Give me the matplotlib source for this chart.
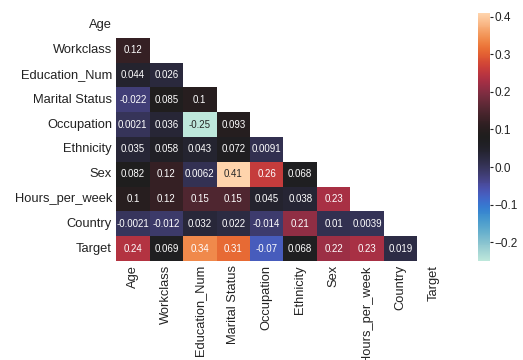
import numpy as np
import pandas as pd
import matplotlib
matplotlib.use("Agg")
import matplotlib.pyplot as plt
import seaborn as sns

features = ["Age", "Workclass", "Education_Num", "Marital Status", "Occupation",
            "Ethnicity", "Sex", "Hours_per_week", "Country", "Target"]

# lower-triangle correlations, one row per feature (columns left of the diagonal)
corr_rows = [
    [],
    [0.12],
    [0.044, 0.026],
    [-0.022, 0.085, 0.1],
    [0.0021, 0.036, -0.25, 0.093],
    [0.035, 0.058, 0.043, 0.072, 0.0091],
    [0.082, 0.12, 0.0062, 0.41, 0.26, 0.068],
    [0.1, 0.12, 0.15, 0.15, 0.045, 0.038, 0.23],
    [-0.0021, -0.012, 0.032, 0.022, -0.014, 0.21, 0.01, 0.0039],
    [0.24, 0.069, 0.34, 0.31, -0.07, 0.068, 0.22, 0.23, 0.019],
]

# build the full symmetric matrix
n = len(features)
mat = np.eye(n)
for i, row in enumerate(corr_rows):
    for j, v in enumerate(row):
        mat[i, j] = v
        mat[j, i] = v
corr = pd.DataFrame(mat, index=features, columns=features)

plt.rcParams["font.family"] = ["Liberation Sans", "DejaVu Sans"]

fig = plt.figure(figsize=(5.23, 3.6), dpi=100)
ax = fig.add_axes([0.222, 0.275, 0.640, 0.689])
cax = fig.add_axes([0.914, 0.275, 0.022, 0.689])

mask = np.triu(np.ones_like(mat, dtype=bool))
sns.heatmap(corr, mask=mask, annot=True, cmap="icefire", ax=ax, cbar_ax=cax,
            annot_kws={"size": 7})

ax.tick_params(axis="both", length=0, labelsize=9.3, colors="#222222", pad=3)
ax.set_xticklabels(features, rotation=90)
ax.set_yticklabels(features, rotation=0)
cax.set_yticks([-0.2, -0.1, 0.0, 0.1, 0.2, 0.3, 0.4])
cax.tick_params(labelsize=8.5, colors="#222222", length=2, pad=1.5)

fig.savefig("out.png", dpi=100)
